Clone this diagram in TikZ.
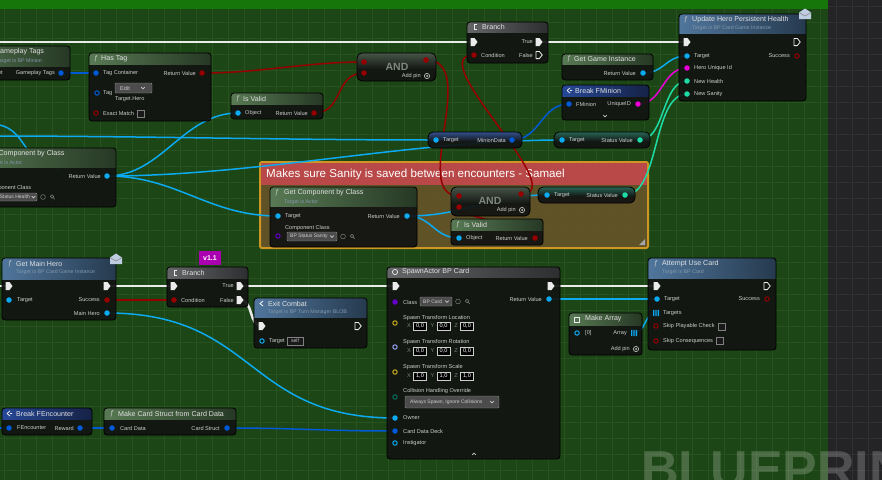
\documentclass[tikz,border=0pt]{standalone}
\usepackage{fontspec}
\setmainfont{Liberation Sans}
\usetikzlibrary{fit}
\definecolor{bgg}{RGB}{29,70,22}
\definecolor{gridg}{RGB}{40,82,32}
\definecolor{topg}{RGB}{22,118,10}
\definecolor{darkp}{RGB}{36,36,38}
\definecolor{gridd}{RGB}{48,48,50}
\definecolor{nbody}{RGB}{18,20,18}
\definecolor{hgL}{RGB}{88,122,84}
\definecolor{hgR}{RGB}{38,56,36}
\definecolor{hbL}{RGB}{80,118,156}
\definecolor{hbR}{RGB}{38,58,78}
\definecolor{hdL}{RGB}{38,72,150}
\definecolor{hdR}{RGB}{22,34,70}
\definecolor{hyL}{RGB}{100,102,104}
\definecolor{hyR}{RGB}{45,46,47}
\definecolor{andtop}{RGB}{70,84,70}
\definecolor{mdtop}{RGB}{50,80,140}
\definecolor{svtop}{RGB}{40,100,85}
\definecolor{ttlc}{RGB}{225,225,225}
\definecolor{subc}{RGB}{130,152,172}
\definecolor{lblc}{RGB}{205,205,205}
\definecolor{cexec}{RGB}{235,235,235}
\definecolor{cbool}{RGB}{150,0,0}
\definecolor{cobj}{RGB}{12,170,240}
\definecolor{cstruct}{RGB}{0,90,215}
\definecolor{cmag}{RGB}{235,0,215}
\definecolor{cint}{RGB}{30,220,165}
\definecolor{cclass}{RGB}{100,0,200}
\definecolor{cvec}{RGB}{200,170,30}
\definecolor{crot}{RGB}{150,160,240}
\definecolor{cenum}{RGB}{0,110,90}
\definecolor{cmtbody}{RGB}{105,84,42}
\definecolor{cmtedge}{RGB}{205,150,35}
\definecolor{cmthead}{RGB}{185,72,72}
\definecolor{verc}{RGB}{170,0,175}
\definecolor{envc}{RGB}{190,205,225}
\definecolor{andc}{RGB}{125,135,125}
\pgfdeclarelayer{bg}
\pgfdeclarelayer{cmt}
\pgfdeclarelayer{wires}
\pgfdeclarelayer{fg}
\pgfsetlayers{bg,cmt,wires,main,fg}
\tikzset{
 nodebody/.style={fill=nbody, fill opacity=0.93, rounded corners=3pt},
 nodeedge/.style={draw=black, line width=0.8pt, rounded corners=3pt},
 hgreen/.style={left color=hgL, right color=hgR},
 hblue/.style={left color=hbL, right color=hbR},
 hdark/.style={left color=hdL, right color=hdR},
 hgray/.style={left color=hyL, right color=hyR},
 ttl/.style={font=\fontsize{7.1}{8}\selectfont, text=ttlc, inner sep=0pt},
 sub/.style={font=\fontsize{5.3}{6}\selectfont, text=subc, inner sep=0pt},
 lbl/.style={font=\fontsize{5.6}{6.5}\selectfont, text=lblc, inner sep=0pt},
 andt/.style={font=\bfseries\fontsize{10.5}{11}\selectfont, text=andc, inner sep=0pt},
 pinf/.style={circle, inner sep=0pt, minimum size=5.5pt, fill=#1},
 pinh/.style={circle, inner sep=0pt, minimum size=4.4pt, draw=#1, line width=1pt},
 execp/.style={inner sep=0pt, minimum size=8pt},
 xw/.style={draw=cexec, line width=2.4pt},
 dw/.style={line width=1.5pt},
 iconl/.style={draw=lblc, line width=0.6pt}
}
\newcount\lblcnt
\newcommand\txt[4][]{\global\advance\lblcnt by 1\relax\node[#1] (t\the\lblcnt) at (#2,#3) {#4};}
\newcommand\bpnode[7]{%
  \node[fit={(#2,#3) (#4,#5)}, inner sep=0pt, nodebody] (#1) {};
  \begin{scope}
    \clip[rounded corners=3pt] (#2,#3) rectangle (#4,#5);
    \shade[#7] (#2,#3) rectangle (#4,#6);
  \end{scope}
  \draw[nodeedge] (#2,#3) rectangle (#4,#5);
}
\newcommand\bpcompact[6]{%
  \node[fit={(#2,#3) (#4,#5)}, inner sep=0pt, fill=nbody, fill opacity=0.93, rounded corners=5pt] (#1) {};
  \begin{scope}
    \clip[rounded corners=5pt] (#2,#3) rectangle (#4,#5);
    \shade[top color=#6, bottom color=nbody] (#2,#3) rectangle (#4,{#3+(#5-#3)*0.6});
  \end{scope}
  \draw[nodeedge, rounded corners=5pt] (#2,#3) rectangle (#4,#5);
}
\newcommand\pinF[4]{\node[pinf=#4] (#1) at (#2,#3) {};}
\newcommand\pinH[4]{\node[pinh=#4] (#1) at (#2,#3) {};}
\newcommand\pinX[3]{\node[execp] (#1) at (#2,#3) {};
  \fill[cexec, shift={(#1.center)}] (-3.5,-4) -- (0.5,-4) -- (3.5,0) -- (0.5,4) -- (-3.5,4) -- cycle;}
\newcommand\pinXh[3]{\node[execp] (#1) at (#2,#3) {};
  \draw[cexec, line width=0.8pt, line join=round, shift={(#1.center)}] (-3,-3.6) -- (0.3,-3.6) -- (3.2,0) -- (0.3,3.6) -- (-3,3.6) -- cycle;}
\newcommand\pinA[4]{\node[execp] (#1) at (#2,#3) {};
  \fill[#4, shift={(#1.center)}] (-3,-3.2) rectangle (-1.7,3.2) (-0.65,-3.2) rectangle (0.65,3.2) (1.7,-3.2) rectangle (3,3.2);}
\newcommand\chev[2]{\draw[iconl] ({#1-1.8},{#2-0.9}) -- (#1,{#2+0.9}) -- ({#1+1.8},{#2-0.9});}
\newcommand\chevup[2]{\draw[iconl] ({#1-1.8},{#2+0.9}) -- (#1,{#2-0.9}) -- ({#1+1.8},{#2+0.9});}
\newcommand\chk[5]{\node[fit={(#2,#3) (#4,#5)}, inner sep=0pt, fill=black!90, draw=black!50!white, line width=0.5pt] (#1) {};}
\newcommand\dropbox[5]{\node[fit={(#2,#3) (#4,#5)}, inner sep=0pt, fill=black!70, draw=black!45!white, line width=0.4pt, rounded corners=1pt] (#1) {};}
\newcommand\clsicons[2]{\draw[draw=gray, line width=0.5pt] (#1,#2) circle[radius=2.4pt];
  \draw[draw=gray, line width=0.5pt] ({#1+9},{#2-0.5}) circle[radius=1.8pt] ({#1+10.3},{#2+0.8}) -- ({#1+11.8},{#2+2.3});}
\newcommand\addpin[3]{\txt[lbl,anchor=east]{#1}{#2}{Add pin}
  \draw[iconl] (#3,#2) circle[radius=2.6pt]; \fill[lblc] (#3,#2) circle[radius=1pt];}
\newcommand\envl[3]{\node[inner sep=0pt, minimum width=12pt, minimum height=11pt] (#1) at (#2,#3) {};
  \fill[envc] ({#2-6},{#3-1.5}) -- (#2,{#3-5.5}) -- ({#2+6},{#3-1.5}) -- ({#2+6},{#3+5}) -- ({#2-6},{#3+5}) -- cycle;
  \draw[black!50, line width=0.5pt] ({#2-6},{#3-1.5}) -- (#2,{#3+2}) -- ({#2+6},{#3-1.5});}
\newcommand\fic[2]{\txt[ttl,anchor=west,text=lblc]{#1}{#2}{ƒ}}
\newcommand\vecfield[4]{\txt[lbl,text=gray,anchor=center]{#1}{#2}{#3}
  \global\advance\lblcnt by 1\relax
  \node[draw=lblc, line width=0.5pt, fill=black, inner sep=0pt, minimum width=13pt, minimum height=8pt, font=\fontsize{5.6}{6}\selectfont, text=white] (t\the\lblcnt) at ({#1+11},#2) {#4};}
\newcommand\vecrow[2]{\vecfield{409}{#1}{X}{#2}\vecfield{432.5}{#1}{Y}{#2}\vecfield{456}{#1}{Z}{#2}}
\begin{document}
\begin{tikzpicture}[x=1pt,y=-1pt]
\useasboundingbox (0,0) rectangle (882,480);
\begin{pgfonlayer}{bg}
\fill[bgg] (0,0) rectangle (828,480);
\foreach \i in {4,20,...,828} {\draw[gridg, line width=0.45pt] (\i,0) -- (\i,480);}
\foreach \j in {6,22,...,480} {\draw[gridg, line width=0.45pt] (0,\j) -- (828,\j);}
\fill[topg] (0,0) rectangle (828,9);
\fill[darkp] (828,0) rectangle (882,480);
\foreach \i in {836,852,868} {\draw[gridd, line width=0.45pt] (\i,0) -- (\i,480);}
\foreach \j in {6,22,...,480} {\draw[gridd, line width=0.45pt] (828,\j) -- (882,\j);}
\end{pgfonlayer}
\begin{pgfonlayer}{cmt}
\node[fit={(260,162) (648,248)}, inner sep=0pt, fill=cmtbody, fill opacity=0.88, draw=cmtedge, line width=2pt, rounded corners=2pt] (cmt) {};
\fill[cmthead] (261,163) rectangle (647,185);
\node[anchor=west, font=\fontsize{11.6}{12}\selectfont, text=white, inner sep=0pt] (cmttitle) at (266,174.5) {Makes sure Sanity is saved between encounters - Samael};
\fill[gray!70] (645,245) -- (645,239) -- (639,245) -- cycle;
\end{pgfonlayer}
% ---------- Gameplay Tags
\bpnode{gpt}{-60}{46}{70}{80}{66}{hgreen}
\txt[ttl,anchor=west]{-5.5}{51.5}{Gameplay Tags}
\txt[sub,anchor=west]{-4}{61}{Target is BP Minion}
\pinF{gpt-o}{61}{73}{cstruct}
\txt[lbl,anchor=east]{55}{73}{Gameplay Tags}
\txt[lbl,anchor=west]{-13}{73}{Target}
% ---------- Has Tag
\bpnode{ht}{89}{53}{211}{121}{64}{hgreen}
\fic{94}{58.5}
\txt[ttl,anchor=west]{101}{58.5}{Has Tag}
\pinF{ht-tc}{96}{73}{cstruct}\txt[lbl,anchor=west]{103}{73}{Tag Container}
\pinF{ht-rv}{202}{73}{cbool}\txt[lbl,anchor=east]{196}{73}{Return Value}
\pinH{ht-tag}{97}{93}{cstruct}\txt[lbl,anchor=west]{103}{93}{Tag}
\dropbox{ht-edit}{115}{83}{152}{93}
\txt[lbl,anchor=west]{120}{88}{Edit}\chev{143}{88}
\txt[lbl,anchor=west]{115}{99}{Target.Hero}
\pinH{ht-em}{96}{113}{cbool}\txt[lbl,anchor=west]{103}{113}{Exact Match}
\chk{ht-cb}{137}{110}{144}{117}
% ---------- Is Valid 1
\bpnode{iv1}{231}{93}{323}{119}{104}{hgreen}
\fic{236}{98.5}
\txt[ttl,anchor=west]{243}{98.5}{Is Valid}
\pinF{iv1-obj}{238}{113}{cobj}\txt[lbl,anchor=west]{245}{113}{Object}
\pinF{iv1-rv}{314}{113}{cbool}\txt[lbl,anchor=east]{308}{113}{Return Value}
% ---------- AND 1
\bpcompact{and1}{357}{53}{436}{81}{andtop}
\pinF{and1-a}{364}{62}{cbool}\pinF{and1-b}{364}{73}{cbool}\pinF{and1-o}{426}{60}{cbool}
\txt[andt]{397}{67}{AND}
\addpin{421}{76}{427}
% ---------- Branch 1
\bpnode{br1}{467}{22}{548}{63}{32}{hgray}
\draw[cexec, line width=1pt] (477,24.5) -- (474,24.5) -- (474,29.5) -- (477,29.5);
\txt[ttl,anchor=west]{482}{27}{Branch}
\pinX{br1-in}{474}{42}
\pinX{br1-t}{539}{42}\txt[lbl,anchor=east]{533}{42}{True}
\pinF{br1-c}{474}{55}{cbool}\txt[lbl,anchor=west]{481}{55}{Condition}
\pinXh{br1-f}{539}{55}\txt[lbl,anchor=east]{533}{55}{False}
% ---------- Update Hero Persistent Health
\bpnode{uh}{679}{14}{806}{101}{33}{hblue}
\fic{684}{19.5}
\txt[ttl,anchor=west]{692}{19.5}{Update Hero Persistent Health}
\txt[sub,anchor=west]{692}{28.5}{Target is BP Card Game Instance}
\pinX{uh-in}{687}{42}\pinXh{uh-out}{797}{42}
\pinF{uh-tg}{687}{56}{cobj}\txt[lbl,anchor=west]{694}{56}{Target}
\pinH{uh-sc}{797}{56}{cbool}\txt[lbl,anchor=east]{790}{56}{Success}
\pinF{uh-uid}{687}{68}{cmag}\txt[lbl,anchor=west]{694}{68}{Hero Unique Id}
\pinF{uh-nh}{687}{81}{cint}\txt[lbl,anchor=west]{694}{81}{New Health}
\pinF{uh-ns}{687}{94}{cint}\txt[lbl,anchor=west]{694}{94}{New Sanity}
\envl{uh-env}{805}{14}
% ---------- Get Game Instance
\bpnode{ggi}{562}{54}{653}{80}{64}{hgreen}
\fic{567}{59}
\txt[ttl,anchor=west]{574}{59}{Get Game Instance}
\pinF{ggi-rv}{643}{73}{cobj}\txt[lbl,anchor=east]{636}{73}{Return Value}
% ---------- Break FMinion
\bpnode{bfm}{562}{85}{649}{120}{96}{hdark}
\draw[cexec, line width=0.8pt] (567,90.5) -- (570,88) (567,90.5) -- (570,93) (570,90.5) -- (572,90.5);
\txt[ttl,anchor=west]{575}{90.5}{Break FMinion}
\pinF{bfm-fm}{569}{104}{cstruct}\txt[lbl,anchor=west]{576}{104}{FMinion}
\pinF{bfm-uid}{638}{104}{cmag}\txt[lbl,anchor=east]{631}{104}{UniqueID}
\chev{605}{116}
% ---------- MinionData
\bpcompact{md}{428}{132}{522}{148}{mdtop}
\pinF{md-tg}{436}{140}{cobj}\txt[lbl,anchor=west]{443}{140}{Target}
\pinF{md-o}{512}{140}{cstruct}\txt[lbl,anchor=east]{506}{140}{MinionData}
% ---------- Status Value 1
\bpcompact{sv1}{554}{132}{650}{148}{svtop}
\pinF{sv1-tg}{562}{140}{cobj}\txt[lbl,anchor=west]{569}{140}{Target}
\pinF{sv1-o}{640}{140}{cint}\txt[lbl,anchor=east]{633}{140}{Status Value}
% ---------- Left Get Component by Class
\bpnode{gc1}{-40}{148}{116}{207}{167}{hgreen}
\txt[ttl,anchor=west]{-15}{154}{Get Component by Class}
\txt[sub,anchor=west]{-12}{163}{Target is Actor}
\pinF{gc1-rv}{107}{176}{cobj}\txt[lbl,anchor=east]{101}{176}{Return Value}
\txt[lbl,anchor=west]{-13.5}{188}{Component Class}
\dropbox{gc1-dd}{-10}{193}{37}{201}
\txt[lbl,anchor=east,font=\fontsize{5}{6}\selectfont]{30}{197}{BP Status Health}\chev{33.5}{197}
\clsicons{43}{197}
% ---------- Inner Get Component by Class
\bpnode{gc2}{270}{187}{417}{247}{206}{hgreen}
\fic{275}{193}
\txt[ttl,anchor=west]{284}{193}{Get Component by Class}
\txt[sub,anchor=west]{284}{202}{Target is Actor}
\pinF{gc2-tg}{278}{216}{cobj}\txt[lbl,anchor=west]{285}{216}{Target}
\pinF{gc2-rv}{407}{216}{cobj}\txt[lbl,anchor=east]{400}{216}{Return Value}
\txt[lbl,anchor=west]{285}{228}{Component Class}
\pinH{gc2-cc}{278}{236}{cclass}
\dropbox{gc2-dd}{287}{232}{337}{241}
\txt[lbl,anchor=west,font=\fontsize{5}{6}\selectfont]{290}{236.5}{BP Status Sanity}\chev{332}{236.5}
\clsicons{343}{236.5}
% ---------- AND 2
\bpcompact{and2}{451}{187}{530}{216}{andtop}
\pinF{and2-a}{459}{196}{cbool}\pinF{and2-b}{459}{207}{cbool}\pinF{and2-o}{521}{194}{cbool}
\txt[andt]{490}{201}{AND}
\addpin{516}{210}{522}
% ---------- Status Value 2
\bpcompact{sv2}{538}{187}{635}{203}{svtop}
\pinF{sv2-tg}{547}{195}{cobj}\txt[lbl,anchor=west]{554}{195}{Target}
\pinF{sv2-o}{625}{195}{cint}\txt[lbl,anchor=east]{618}{195}{Status Value}
% ---------- Is Valid 2
\bpnode{iv2}{451}{219}{543}{245}{230}{hgreen}
\fic{456}{224.5}
\txt[ttl,anchor=west]{464}{224.5}{Is Valid}
\pinF{iv2-obj}{459}{238}{cobj}\txt[lbl,anchor=west]{466}{238}{Object}
\pinF{iv2-rv}{535}{238}{cbool}\txt[lbl,anchor=east]{528}{238}{Return Value}
% ---------- Get Main Hero
\bpnode{gmh}{2}{258}{116}{320}{279}{hblue}
\fic{8}{263.5}
\txt[ttl,anchor=west]{16}{263.5}{Get Main Hero}
\txt[sub,anchor=west]{16}{272.5}{Target is BP Card Game Instance}
\pinX{gmh-in}{9}{286}\pinX{gmh-out}{107}{286}
\pinF{gmh-tg}{9}{300}{cobj}\txt[lbl,anchor=west]{17}{300}{Target}
\pinF{gmh-sc}{107}{300}{cbool}\txt[lbl,anchor=east]{100}{300}{Success}
\pinF{gmh-mh}{107}{313}{cobj}\txt[lbl,anchor=east]{100}{313}{Main Hero}
\envl{gmh-env}{116}{259}
% ---------- v1.1
\node[fit={(199,251) (221,265)}, inner sep=0pt, fill=verc] (ver) {};
\txt[font=\bfseries\fontsize{7}{7}\selectfont, text=white, inner sep=0pt]{210}{258}{v1.1}
% ---------- Branch 2
\bpnode{br2}{167}{267}{248}{307}{278}{hgray}
\draw[cexec, line width=1pt] (177,270) -- (174,270) -- (174,275) -- (177,275);
\txt[ttl,anchor=west]{182}{272.5}{Branch}
\pinX{br2-in}{174}{286}
\pinX{br2-t}{240}{286}\txt[lbl,anchor=east]{234}{286}{True}
\pinF{br2-c}{174}{300}{cbool}\txt[lbl,anchor=west]{181}{300}{Condition}
\pinX{br2-f}{240}{300}\txt[lbl,anchor=east]{234}{300}{False}
% ---------- Exit Combat
\bpnode{ec}{254}{298}{367}{348}{317}{hblue}
\draw[cexec, line width=0.9pt] (263,301) -- (260,303.5) -- (263,306);
\txt[ttl,anchor=west]{268}{303.5}{Exit Combat}
\txt[sub,anchor=west]{268}{312}{Target is BP Turn Manager BLOB}
\pinX{ec-in}{262}{326}\pinXh{ec-out}{358}{326}
\pinH{ec-tg}{262}{341}{cobj}\txt[lbl,anchor=west]{269}{341}{Target}
\chk{ec-self}{287}{337}{303}{345}
\txt[lbl,font=\fontsize{5}{6}\selectfont]{295}{341}{self}
% ---------- SpawnActor BP Card
\bpnode{sa}{387}{267}{560}{459}{277}{hgray}
\draw[cexec, line width=0.7pt] (395,272) circle[radius=2.6pt];
\txt[ttl,anchor=west]{402}{272}{SpawnActor BP Card}
\pinX{sa-in}{396}{286}\pinX{sa-out}{551}{286}
\pinF{sa-cl}{395}{302}{cclass}\txt[lbl,anchor=west]{403}{302}{Class}
\dropbox{sa-dd}{420}{297}{452}{306}
\txt[lbl,anchor=west,font=\fontsize{5}{6}\selectfont]{423}{301.5}{BP Card}\chev{447}{301.5}
\clsicons{458}{301.5}
\pinF{sa-rv}{549}{299}{cobj}\txt[lbl,anchor=east]{542}{299}{Return Value}
\txt[lbl,anchor=west]{403}{318}{Spawn Transform Location}
\pinH{sa-loc}{395}{323}{cvec}
\vecrow{326}{0,0}
\txt[lbl,anchor=west]{403}{342}{Spawn Transform Rotation}
\pinH{sa-rot}{395}{347}{crot}
\vecrow{351}{0,0}
\txt[lbl,anchor=west]{403}{367}{Spawn Transform Scale}
\pinH{sa-scl}{395}{372}{cvec}
\vecrow{376}{1,0}
\txt[lbl,anchor=west]{403}{391.5}{Collision Handling Override}
\pinH{sa-col}{395}{397}{cenum}
\dropbox{sa-cdd-box}{405}{396}{499}{408}
\txt[lbl,anchor=west,font=\fontsize{5}{6}\selectfont]{410}{402}{Always Spawn, Ignore Collisions}\chev{492}{402}
\pinF{sa-ow}{395}{418}{cobj}\txt[lbl,anchor=west]{403}{418}{Owner}
\pinF{sa-cdd}{395}{431}{cstruct}\txt[lbl,anchor=west]{403}{431}{Card Data Deck}
\pinH{sa-ins}{395}{443}{cobj}\txt[lbl,anchor=west]{403}{443}{Instigator}
\chevup{474}{454}
% ---------- Make Array
\bpnode{ma}{569}{313}{642}{355}{325}{hgreen}
\draw[cexec, line width=0.7pt] (574,317) rectangle (579,322);
\txt[ttl,anchor=west]{585}{319}{Make Array}
\pinH{ma-0}{577}{333}{cobj}\txt[lbl,anchor=west]{585}{333}{[0]}
\pinA{ma-arr}{634}{333}{cobj}\txt[lbl,anchor=east]{627}{333}{Array}
\addpin{630}{349}{636}
% ---------- Attempt Use Card
\bpnode{auc}{648}{258}{776}{350}{278}{hblue}
\fic{654}{263.5}
\txt[ttl,anchor=west]{662}{263.5}{Attempt Use Card}
\txt[sub,anchor=west]{662}{272.5}{Target is BP Card}
\pinX{auc-in}{657}{286}\pinXh{auc-out}{767}{286}
\pinF{auc-tg}{657}{299}{cobj}\txt[lbl,anchor=west]{664}{299}{Target}
\pinH{auc-sc}{767}{299}{cbool}\txt[lbl,anchor=east]{760}{299}{Success}
\pinA{auc-tgs}{656}{313}{cobj}\txt[lbl,anchor=west]{663}{313}{Targets}
\pinH{auc-spc}{656}{326}{cbool}\txt[lbl,anchor=west]{663}{326}{Skip Playable Check}
\chk{auc-cb1}{718}{323}{725}{330}
\pinH{auc-scq}{656}{341}{cbool}\txt[lbl,anchor=west]{663}{341}{Skip Consequences}
\chk{auc-cb2}{716}{337}{723}{344}
% ---------- Break FEncounter
\bpnode{bfe}{2}{408}{92}{435}{419}{hdark}
\draw[cexec, line width=0.8pt] (7,413.5) -- (10,411) (7,413.5) -- (10,416) (10,413.5) -- (12,413.5);
\txt[ttl,anchor=west]{16}{413.5}{Break FEncounter}
\pinF{bfe-fe}{9}{428}{cstruct}\txt[lbl,anchor=west]{17}{428}{FEncounter}
\pinF{bfe-rw}{80}{428}{cstruct}\txt[lbl,anchor=east]{74}{428}{Reward}
% ---------- Make Card Struct from Card Data
\bpnode{mcs}{104}{408}{236}{435}{419}{hgreen}
\fic{110}{413.5}
\txt[ttl,anchor=west]{118}{413.5}{Make Card Struct from Card Data}
\pinF{mcs-cd}{112}{428}{cstruct}\txt[lbl,anchor=west]{120}{428}{Card Data}
\pinF{mcs-cs}{227}{428}{cstruct}\txt[lbl,anchor=east]{220}{428}{Card Struct}
% ---------- wires
\begin{pgfonlayer}{wires}
\coordinate (e0) at (-5,42);
\coordinate (e1) at (-5,286);
\coordinate (w1) at (-10,136);
\coordinate (w2) at (-10,124);
\coordinate (w2e) at (60,168);
\coordinate (w3) at (-5,428);
\draw[xw] (e0) -- (br1-in.center);
\draw[xw] (br1-t.center) -- (uh-in.center);
\draw[xw] (e1) -- (gmh-in.center);
\draw[xw] (gmh-out.center) -- (br2-in.center);
\draw[xw] (br2-t.center) -- (sa-in.center);
\draw[xw] (sa-out.center) -- (auc-in.center);
\draw[xw] (br2-f.center) .. controls +(14,0) and +(-14,0) .. (ec-in.center);
\draw[dw, cbool] (ht-rv.center) .. controls +(60,0) and +(-60,0) .. (and1-a.center);
\draw[dw, cbool] (iv1-rv.center) .. controls +(30,0) and +(-30,0) .. (and1-b.center);
\draw[dw, cbool] (and1-o.center) .. controls +(55,0) and +(-50,0) .. (and2-a.center);
\draw[dw, cbool] (and2-o.center) .. controls +(53,0) and +(-54,0) .. (br1-c.center);
\draw[dw, cbool] (iv2-rv.center) .. controls +(35,0) and +(-35,0) .. (and2-b.center);
\draw[dw, cbool] (gmh-sc.center) -- (br2-c.center);
\draw[dw, cobj] (gc1-rv.center) .. controls +(55,0) and +(-55,0) .. (iv1-obj.center);
\draw[dw, cobj] (gc1-rv.center) .. controls +(150,0) and +(-150,0) .. (sv1-tg.center);
\draw[dw, cobj] (gc1-rv.center) .. controls +(70,0) and +(-70,0) .. (gc2-tg.center);
\draw[dw, cobj] (w1) .. controls +(150,0) and +(-150,0) .. (md-tg.center);
\draw[dw, cobj] (w2) .. controls +(40,0) and +(-40,0) .. (w2e);
\draw[dw, cobj] (ggi-rv.center) .. controls +(22,0) and +(-22,0) .. (uh-tg.center);
\draw[dw, cobj] (gc2-rv.center) .. controls +(25,0) and +(-25,0) .. (iv2-obj.center);
\draw[dw, cobj] (gc2-rv.center) .. controls +(60,0) and +(-60,0) .. (sv2-tg.center);
\draw[dw, cobj] (gmh-mh.center) .. controls +(150,0) and +(-150,0) .. (sa-ow.center);
\draw[dw, cobj] (sa-rv.center) -- (auc-tg.center);
\draw[dw, cobj] (ma-arr.center) .. controls +(12,0) and +(-12,0) .. (auc-tgs.center);
\draw[dw, cstruct] (gpt-o.center) -- (ht-tc.center);
\draw[dw, cstruct] (md-o.center) .. controls +(28,0) and +(-28,0) .. (bfm-fm.center);
\draw[dw, cstruct] (bfe-rw.center) -- (mcs-cd.center);
\draw[dw, cstruct] (mcs-cs.center) .. controls +(70,0) and +(-70,0) .. (sa-cdd.center);
\draw[dw, cstruct] (w3) -- (bfe-fe.center);
\draw[dw, cmag] (bfm-uid.center) .. controls +(25,0) and +(-25,0) .. (uh-uid.center);
\draw[dw, cint] (sv1-o.center) .. controls +(25,0) and +(-25,0) .. (uh-nh.center);
\draw[dw, cint] (sv2-o.center) .. controls +(35,0) and +(-35,0) .. (uh-ns.center);
\end{pgfonlayer}
\begin{pgfonlayer}{fg}
\node[anchor=base west, font=\bfseries\fontsize{52}{52}\selectfont, text=white, text opacity=0.2, inner sep=0pt] (wm) at (641,487) {BLUEPRINT};
\end{pgfonlayer}
\end{tikzpicture}
\end{document}
